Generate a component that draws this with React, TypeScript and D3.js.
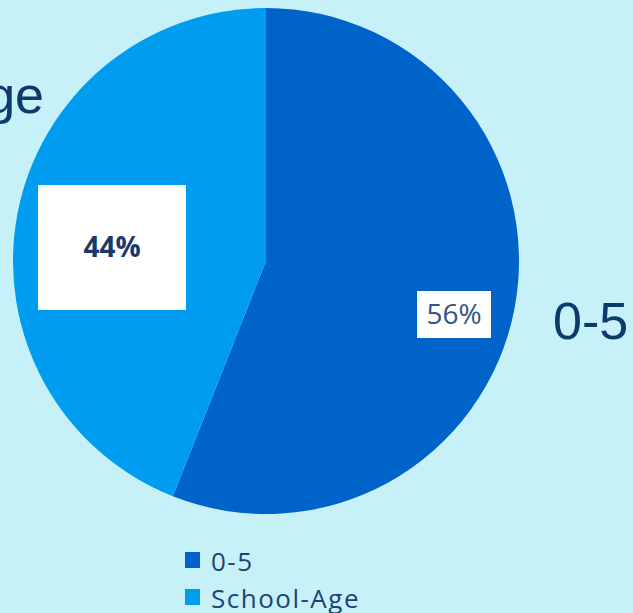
import React from "react";
import * as d3 from "d3";

const categories = ["0-5", "School-Age"];
const values = [56, 44];
const percentLabels = ["56%", "44%"];

const W = 633;
const H = 613;
const BG = "#c6f1f9";
const COLORS = ["#0063c9", "#009cf0"];
const NAVY = "#0b3a6c";

export default function App() {
  const cx = 266;
  const cy = 261;
  const r = 253;
  const pie = d3.pie<number>().sort(null).value((d) => d);
  const arcs = pie(values);
  const arc = d3.arc<d3.PieArcDatum<number>>().innerRadius(0).outerRadius(r);
  const color = d3.scaleOrdinal<string, string>().domain(categories).range(COLORS);

  // label box layouts (relative to pie centre)
  const boxes = [
    { x: 151, y: 30, w: 74, h: 47, size: 28, weight: 400, fill: "#2e5585" },
    { x: -228, y: -76, w: 148, h: 125, size: 28, weight: 700, fill: "#1b3a6b" },
  ];
  const outer = [
    { x: 553, y: 339, anchor: "start" },
    { x: 44, y: 113, anchor: "end" },
  ];

  return (
    <svg
      width={W}
      height={H}
      style={{ position: "absolute", left: 0, top: 0, background: BG }}
    >
      <rect width={W} height={H} fill={BG} />
      <g transform={`translate(${cx},${cy})`}>
        {arcs.map((a, i) => (
          <path key={i} d={arc(a) || ""} fill={color(categories[i])} />
        ))}
        {arcs.map((a, i) => {
          const b = boxes[i];
          return (
            <g key={"b" + i}>
              <rect x={b.x} y={b.y} width={b.w} height={b.h} fill="#ffffff" />
              <text
                x={b.x + b.w / 2}
                y={b.y + b.h / 2}
                dy="0.35em"
                textAnchor="middle"
                fontFamily="'Open Sans', sans-serif"
                fontSize={b.size}
                fontWeight={b.weight}
                fill={b.fill}
              >
                {percentLabels[i]}
              </text>
            </g>
          );
        })}
      </g>
      {categories.map((c, i) => (
        <text
          key={"o" + i}
          x={outer[i].x}
          y={outer[i].y}
          textAnchor={outer[i].anchor as any}
          fontFamily="'Liberation Sans', Arial, sans-serif"
          fontSize={52}
          fill={NAVY}
        >
          {c}
        </text>
      ))}
      <g transform="translate(185,552)">
        {categories.map((c, i) => (
          <g key={"l" + i} transform={`translate(0,${i * 37})`}>
            <rect x={0} y={0} width={15} height={16} fill={color(c)} />
            <text
              x={26}
              y={19}
              fontFamily="'Open Sans', sans-serif"
              fontSize={26}
              fontWeight={500}
              letterSpacing={1.5}
              fill="#1f4373"
            >
              {c}
            </text>
          </g>
        ))}
      </g>
    </svg>
  );
}
